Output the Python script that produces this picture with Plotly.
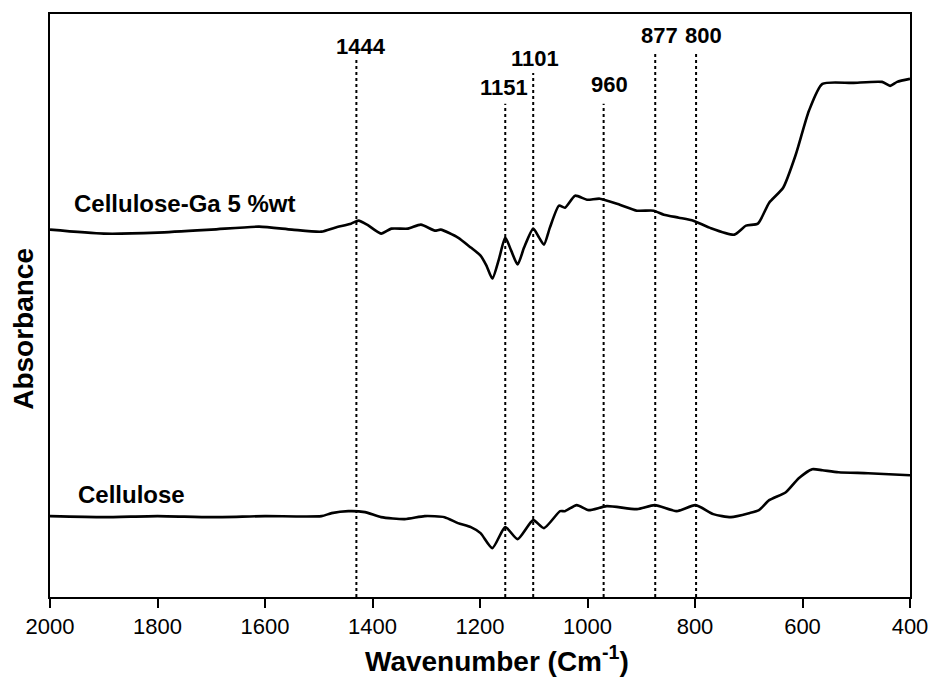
import plotly.graph_objects as go

# Cellulose-Ga 5 %wt spectrum (wavenumber, absorbance a.u.)
ga_wn = [2000, 1900, 1800, 1700, 1611, 1550, 1495, 1470, 1440, 1426, 1410, 1384, 1365, 1334,
         1310, 1284, 1273, 1241, 1217, 1199, 1188, 1177, 1165, 1153, 1142, 1130, 1118, 1101,
         1090, 1081, 1070, 1053, 1042, 1023, 1001, 977, 940, 908, 877, 858, 830, 803, 773,
         727, 705, 683, 662, 636, 612, 588, 563, 507, 452, 437, 424, 400]
ga_abs = [3.68, 3.64, 3.65, 3.68, 3.71, 3.68, 3.66, 3.70, 3.74, 3.77, 3.73, 3.64, 3.69, 3.69,
          3.73, 3.67, 3.68, 3.60, 3.50, 3.42, 3.32, 3.19, 3.38, 3.60, 3.47, 3.33, 3.50, 3.69,
          3.60, 3.53, 3.70, 3.92, 3.90, 4.02, 3.98, 3.99, 3.93, 3.87, 3.87, 3.83, 3.80, 3.77, 3.70,
          3.63, 3.72, 3.74, 3.95, 4.10, 4.44, 4.87, 5.14, 5.15, 5.16, 5.12, 5.16, 5.19]

# Cellulose spectrum
cel_wn = [2000, 1900, 1800, 1700, 1600, 1495, 1476, 1445, 1414, 1384, 1340, 1303, 1266, 1241,
          1217, 1199, 1177, 1153, 1130, 1101, 1081, 1051, 1042, 1020, 998, 964, 908, 875, 834,
          799, 766, 733, 699, 681, 662, 631, 607, 582, 563, 533, 478, 400]
cel_abs = [0.81, 0.80, 0.81, 0.80, 0.81, 0.81, 0.84, 0.86, 0.85, 0.80, 0.78, 0.81, 0.80, 0.74,
           0.70, 0.64, 0.49, 0.70, 0.58, 0.77, 0.69, 0.86, 0.86, 0.92, 0.87, 0.91, 0.88, 0.92, 0.86,
           0.92, 0.83, 0.80, 0.84, 0.87, 0.97, 1.05, 1.19, 1.28, 1.27, 1.25, 1.24, 1.22]

# Marked bands: dotted line position, line top, label text, label position
band_wn = [1430, 1153, 1101, 970, 874, 798]
band_top = [5.40, 4.94, 5.25, 4.94, 5.47, 5.47]
band_text = ["1444", "1151", "1101", "960", "877", "800"]
band_label_wn = [1421, 1155, 1097, 960, 866, 785]
band_label_y = [5.51, 5.10, 5.39, 5.13, 5.62, 5.62]

series_names = ["Cellulose-Ga 5 %wt", "Cellulose"]
series_label_wn = [1959, 1952]
series_label_y = [3.94, 1.03]

x_ticks = [2000, 1800, 1600, 1400, 1200, 1000, 800, 600, 400]

FONT = "Liberation Sans, Arial"

fig = go.Figure()
for wn, top in zip(band_wn, band_top):
    fig.add_trace(go.Scatter(x=[wn, wn], y=[0, top], mode="lines",
                             line=dict(color="black", width=2, dash="dot"),
                             showlegend=False, hoverinfo="skip"))

fig.add_trace(go.Scatter(x=ga_wn, y=ga_abs, mode="lines", name=series_names[0],
                         line=dict(color="black", width=2.6, shape="spline", smoothing=0.6),
                         showlegend=False))
fig.add_trace(go.Scatter(x=cel_wn, y=cel_abs, mode="lines", name=series_names[1],
                         line=dict(color="black", width=2.6, shape="spline", smoothing=0.6),
                         showlegend=False))

for t, xw, yv in zip(band_text, band_label_wn, band_label_y):
    fig.add_annotation(x=xw, y=yv, text=t, showarrow=False,
                       font=dict(family=FONT, size=22, color="black", weight="bold"),
                       xanchor="center", yanchor="middle")

for t, xw, yv in zip(series_names, series_label_wn, series_label_y):
    fig.add_annotation(x=xw, y=yv, text=t, showarrow=False,
                       font=dict(family=FONT, size=24, color="black", weight="bold"),
                       xanchor="left", yanchor="middle")

# axis titles
fig.add_annotation(xref="paper", yref="paper", x=0, y=0.46, xshift=-26, text="Absorbance",
                   textangle=-90, showarrow=False, xanchor="center", yanchor="middle",
                   font=dict(family=FONT, size=28, color="black", weight="bold"))
fig.add_annotation(xref="paper", yref="paper", x=0.52, y=0, yshift=-62,
                   text="Wavenumber (Cm<sup>-1</sup>)", showarrow=False,
                   xanchor="center", yanchor="middle",
                   font=dict(family=FONT, size=28, color="black", weight="bold"))

fig.update_layout(
    width=940, height=677,
    margin=dict(l=50, r=25, t=13, b=80),
    plot_bgcolor="white", paper_bgcolor="white",
    font=dict(family=FONT, color="black"),
)
fig.update_xaxes(range=[2000, 400], tickvals=x_ticks, ticks="outside", ticklen=9, tickwidth=2,
                 tickcolor="black", showline=True, linewidth=2, linecolor="black", mirror=True,
                 showgrid=False, zeroline=False, tickfont=dict(size=22))
fig.update_yaxes(range=[0, 5.84], showticklabels=False, ticks="", showline=True, linewidth=2,
                 linecolor="black", mirror=True, showgrid=False, zeroline=False)

fig.write_html("out.html")
